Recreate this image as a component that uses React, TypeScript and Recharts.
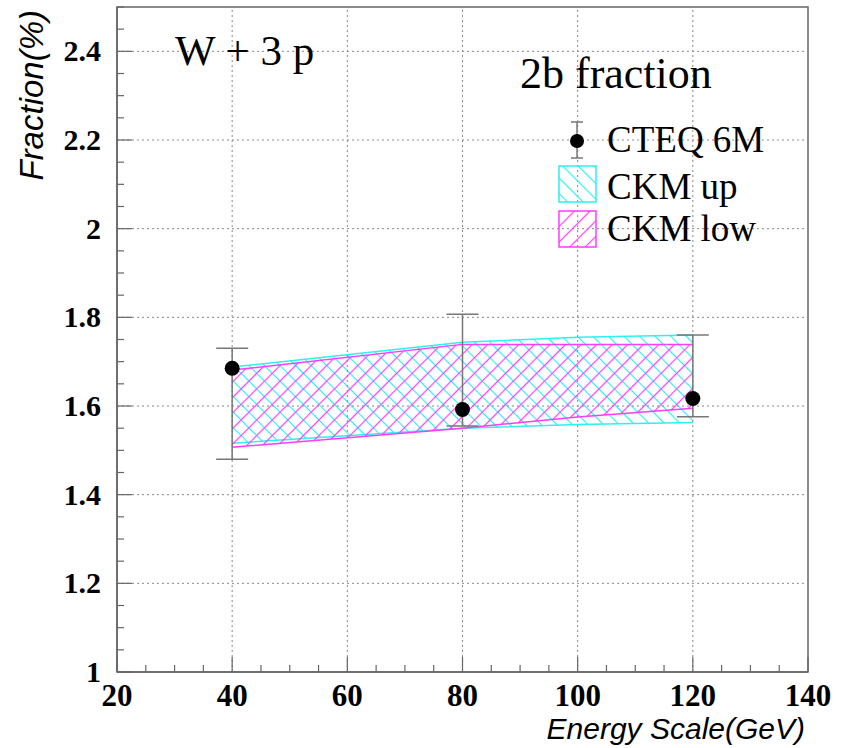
import React from 'react';
import { ComposedChart, XAxis, YAxis, Area, Scatter, ErrorBar, ReferenceLine, ReferenceArea } from 'recharts';

// CTEQ 6M points (value with asymmetric error bar ends)
const cteqX = [40, 80, 120];
const cteqY = [1.685, 1.592, 1.617];
const cteqLow = [1.48, 1.555, 1.576];
const cteqHigh = [1.73, 1.807, 1.76];

// CKM bands
const bandX = [40, 80, 100, 120];
const ckmUpLow = [1.516, 1.55, 1.558, 1.563];
const ckmUpHigh = [1.688, 1.744, 1.755, 1.76];
const ckmLowLow = [1.507, 1.55, 1.575, 1.595];
const ckmLowHigh = [1.681, 1.739, 1.739, 1.739];

// ticks
const xTicks = [20, 25, 30, 35, 40, 45, 50, 55, 60, 65, 70, 75, 80, 85, 90, 95, 100, 105, 110, 115, 120, 125, 130, 135, 140];
const xMajor = [40, 60, 80, 100, 120];
const yTicks = [1, 1.05, 1.1, 1.15, 1.2, 1.25, 1.3, 1.35, 1.4, 1.45, 1.5, 1.55, 1.6, 1.65, 1.7, 1.75, 1.8, 1.85, 1.9, 1.95, 2, 2.05, 2.1, 2.15, 2.2, 2.25, 2.3, 2.35, 2.4, 2.45, 2.5];
const yMajor = [1.2, 1.4, 1.6, 1.8, 2, 2.2, 2.4];

const bandData = bandX.map((x, i) => ({
  x,
  up: [ckmUpLow[i], ckmUpHigh[i]],
  low: [ckmLowLow[i], ckmLowHigh[i]],
}));

const cteqData = cteqX.map((x, i) => ({
  x,
  y: cteqY[i],
  err: [cteqY[i] - cteqLow[i], cteqHigh[i] - cteqY[i]],
}));

const AXIS = '#666';
const GRID = '#888';
const CYAN = '#2ef0f0';
const MAGENTA = '#ff3cff';
const SERIF = '"Liberation Serif", "Times New Roman", serif';
const SANS = '"Liberation Sans", Arial, sans-serif';

const XTick = (p: any) => {
  const v = p.payload.value;
  const major = v % 20 === 0;
  return (
    <g>
      <line x1={p.x} x2={p.x} y1={p.y} y2={p.y - (major ? 15 : 7)} stroke={AXIS} strokeWidth={1.2} />
      {major && (
        <text x={p.x} y={p.y + 34} textAnchor="middle" fontFamily={SERIF} fontWeight="bold" fontSize={31} fill="#000">
          {v}
        </text>
      )}
    </g>
  );
};

const YTick = (p: any) => {
  const v = p.payload.value;
  const major = Math.abs(v * 5 - Math.round(v * 5)) < 1e-6;
  return (
    <g>
      <line x1={p.x} x2={p.x + (major ? 15 : 7)} y1={p.y} y2={p.y} stroke={AXIS} strokeWidth={1.2} />
      {major && (
        <text x={p.x - 16} y={p.y + 10} textAnchor="end" fontFamily={SERIF} fontWeight="bold" fontSize={30} fill="#000">
          {String(v)}
        </text>
      )}
    </g>
  );
};

export default function App() {
  return (
    <div style={{ position: 'absolute', left: 0, top: 0, width: 843, height: 748, background: '#fff' }}>
      <svg width={0} height={0} style={{ position: 'absolute' }}>
        <defs>
          <pattern id="hatchCyan" patternUnits="userSpaceOnUse" width={11} height={11} patternTransform="rotate(-45)">
            <line x1={5.5} y1={0} x2={5.5} y2={11} stroke={CYAN} strokeWidth={1.2} />
          </pattern>
          <pattern id="hatchMagenta" patternUnits="userSpaceOnUse" width={11} height={11} patternTransform="rotate(45)">
            <line x1={5.5} y1={0} x2={5.5} y2={11} stroke={MAGENTA} strokeWidth={1.2} />
          </pattern>
        </defs>
      </svg>
      <ComposedChart width={843} height={748} data={bandData} margin={{ top: 7, right: 35, bottom: 0, left: 17 }}>
        <XAxis
          dataKey="x"
          type="number"
          domain={[20, 140]}
          ticks={xTicks}
          interval={0}
          height={76}
          tickSize={0}
          tickMargin={0}
          tickLine={false}
          tick={(p: any) => <XTick {...p} />}
          axisLine={{ stroke: AXIS, strokeWidth: 1.5 }}
          allowDataOverflow
        />
        <YAxis
          dataKey="y"
          type="number"
          domain={[1, 2.5]}
          ticks={yTicks}
          interval={0}
          width={100}
          tickSize={0}
          tickMargin={0}
          tickLine={false}
          tick={(p: any) => <YTick {...p} />}
          axisLine={{ stroke: AXIS, strokeWidth: 1.5 }}
          allowDataOverflow
        />
        {xMajor.map((v) => (
          <ReferenceLine key={'gx' + v} x={v} stroke={GRID} strokeDasharray="2 3" strokeWidth={1} />
        ))}
        {yMajor.map((v) => (
          <ReferenceLine key={'gy' + v} y={v} stroke={GRID} strokeDasharray="2 3" strokeWidth={1} />
        ))}
        <ReferenceArea x1={20} x2={140} y1={1} y2={2.5} fill="none" stroke={AXIS} strokeWidth={1.5} />
        <Area
          type="linear"
          dataKey="up"
          stroke={CYAN}
          strokeWidth={1.5}
          fill="url(#hatchCyan)"
          fillOpacity={1}
          dot={false}
          activeDot={false}
          isAnimationActive={false}
        />
        <Area
          type="linear"
          dataKey="low"
          stroke={MAGENTA}
          strokeWidth={1.5}
          fill="url(#hatchMagenta)"
          fillOpacity={1}
          dot={false}
          activeDot={false}
          isAnimationActive={false}
        />
        <Scatter
          data={cteqData}
          dataKey="y"
          isAnimationActive={false}
          shape={(p: any) => <circle cx={p.cx} cy={p.cy} r={7.5} fill="#000" />}
        >
          <ErrorBar dataKey="err" direction="y" width={16} stroke="#777" strokeWidth={1.5} isAnimationActive={false} />
        </Scatter>
      </ComposedChart>
      <svg width={843} height={748} style={{ position: 'absolute', left: 0, top: 0, pointerEvents: 'none' }}>
        <text transform="translate(43,10) rotate(-90)" textAnchor="end" fontFamily={SANS} fontStyle="italic" fontSize={33} fill="#000">
          Fraction(%)
        </text>
        <text x={805} y={739} textAnchor="end" fontFamily={SANS} fontStyle="italic" fontSize={30} fill="#000">
          Energy Scale(GeV)
        </text>
        <text x={175} y={65} fontFamily={SERIF} fontSize={43} fill="#000">
          W + 3 p
        </text>
        <text x={520} y={88} fontFamily={SERIF} fontSize={44} fill="#000">
          2b fraction
        </text>
        {/* legend */}
        <line x1={577} x2={577} y1={122} y2={158} stroke="#777" strokeWidth={1.5} />
        <line x1={571} x2={583} y1={122} y2={122} stroke="#777" strokeWidth={1.5} />
        <line x1={571} x2={583} y1={158} y2={158} stroke="#777" strokeWidth={1.5} />
        <circle cx={577} cy={141} r={7} fill="#000" />
        <text x={607} y={152} fontFamily={SERIF} fontSize={37} fill="#000">CTEQ 6M</text>
        <rect x={559} y={166} width={37} height={36} fill="url(#hatchCyan)" stroke={CYAN} strokeWidth={1.5} />
        <text x={607} y={199} fontFamily={SERIF} fontSize={37} fill="#000">CKM up</text>
        <rect x={559} y={211} width={37} height={36} fill="url(#hatchMagenta)" stroke={MAGENTA} strokeWidth={1.5} />
        <text x={607} y={241} fontFamily={SERIF} fontSize={37} fill="#000">CKM low</text>
      </svg>
    </div>
  );
}
